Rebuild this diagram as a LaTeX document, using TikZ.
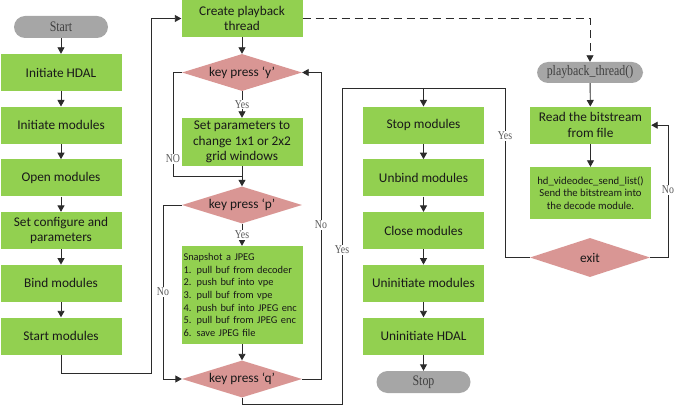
\documentclass[tikz,border=0pt]{standalone}
\usepackage{fontspec}
\usepackage{graphicx}
\setmainfont{Liberation Serif}
\newfontfamily\boxfont{Carlito}
\newcommand{\lbl}[1]{\scalebox{0.82}[1]{#1}}
\usetikzlibrary{arrows.meta,shapes.geometric}
\definecolor{boxgreen}{HTML}{92D050}
\definecolor{diapink}{HTML}{D99694}
\definecolor{pillgray}{HTML}{A6A6A6}
\definecolor{linec}{HTML}{2B2B2B}
\definecolor{labc}{HTML}{595959}
\definecolor{pilltext}{HTML}{404040}
\tikzset{
  stepbox/.style={fill=boxgreen, draw=none, minimum width=121pt, minimum height=37pt,
    inner sep=1pt, align=center, font=\boxfont\fontsize{13.3}{15.7}\selectfont, text=black!90},
  smallbox/.style={fill=boxgreen, draw=none, minimum width=121pt, inner sep=2pt,
    font=\boxfont\fontsize{10.7}{12.4}\selectfont, text=black!90},
  decision/.style={diamond, aspect=3.2, fill=diapink, draw=none, minimum width=120pt,
    minimum height=37pt, inner sep=0pt, font=\boxfont\fontsize{13.3}{15.7}\selectfont, text=black!90},
  pill/.style={rectangle, rounded corners=11pt, fill=pillgray, draw=none, minimum width=94pt,
    minimum height=22pt, inner sep=1pt, font=\fontsize{14.5}{14.5}\selectfont, text=pilltext},
  lab/.style={fill=white, inner sep=0.8pt, font=\fontsize{12}{12}\selectfont, text=labc},
  flow/.style={draw=linec, line width=0.9pt, -{Triangle[length=6.5pt,width=7pt]}},
  plain/.style={draw=linec, line width=0.9pt},
  dashflow/.style={draw=linec, line width=0.9pt, dash pattern=on 8pt off 5pt,
    -{Triangle[length=6.5pt,width=7pt]}},
}
\begin{document}
\begin{tikzpicture}[x=1pt,y=-1pt]
\useasboundingbox (0,0) rectangle (675,406);
% left column
\node[pill] (start) at (61,27) {\lbl{Start}};
\node[stepbox] (ihdal) at (61,72.5) {Initiate HDAL};
\node[stepbox] (imod) at (61,125.2) {Initiate modules};
\node[stepbox] (omod) at (61,177.9) {Open modules};
\node[stepbox] (setc) at (61,230.6) {Set configure and\\parameters};
\node[stepbox] (bmod) at (61,283.3) {Bind modules};
\node[stepbox] (smod) at (61,336) {Start modules};
% second column
\node[stepbox] (create) at (242,18.5) {Create playback\\thread};
\node[decision] (ky) at (242,72.5) {key press ‘y’};
\node[stepbox, minimum height=48pt] (setp) at (242,142) {Set parameters to\\change 1x1 or 2x2\\grid windows};
\node[decision] (kp) at (242,205) {key press ‘p’};
\node[smallbox, minimum height=98pt, text width=117pt, align=left,
  font=\boxfont\fontsize{10.4}{12.6}\selectfont] (snap) at (242,295)
  {Snapshot a JPEG\\1. pull buf from decoder\\2. push buf into vpe\\3. pull buf from vpe\\4. push buf into JPEG enc\\5. pull buf from JPEG enc\\6. save JPEG file};
\node[decision] (kq) at (242,379) {key press ‘q’};
% third column
\node[stepbox] (stopm) at (423.5,125.2) {Stop modules};
\node[stepbox] (ubm) at (423.5,177.9) {Unbind modules};
\node[stepbox] (clm) at (423.5,230.6) {Close modules};
\node[stepbox] (uim) at (423.5,283.3) {Uninitiate modules};
\node[stepbox] (uih) at (423.5,336) {Uninitiate HDAL};
\node[pill] (stop) at (423.5,382) {\lbl{Stop}};
% fourth column
\node[pill, minimum width=106pt, minimum height=21pt] (pbt) at (590,72.5) {\lbl{playback\_thread()}};
\node[stepbox] (read) at (590.5,125.2) {Read the bitstream\\from file};
\node[smallbox, minimum height=52pt, align=center] (hd) at (590.5,193)
  {hd\_videodec\_send\_list()\\Send the bitstream into\\the decode module.};
\node[decision, minimum height=39pt] (exit) at (590,257.5) {exit};
% helper coordinates
\coordinate (J) at (423.5,88);
\coordinate (M) at (242,176);
% left column arrows
\draw[flow] (start) -- (ihdal);
\draw[flow] (ihdal) -- (imod);
\draw[flow] (imod) -- (omod);
\draw[flow] (omod) -- (setc);
\draw[flow] (setc) -- (bmod);
\draw[flow] (bmod) -- (smod);
\draw[flow] (smod.south) -- (61,373) -- (151,373) -- (151,18.5) -- (create.west);
% second column
\draw[flow] (create) -- (ky);
\draw[flow] (ky.south) -- (setp.north) node[lab, midway] (yes1) {\lbl{Yes}};
\draw[plain] (ky.west) -- (173,72.5) -- (173,176) -- (M);
\node[lab] (no1) at (173,159) {\lbl{NO}};
\draw[flow] (setp.south) -- (kp.north);
\draw[flow] (kp.south) -- (snap.north) node[lab, midway] (yes2) {\lbl{Yes}};
\draw[flow] (kp.west) -- (163,205) -- (163,379) -- (kq.west);
\node[lab] (no2) at (163,292) {\lbl{No}};
\draw[flow] (snap) -- (kq);
\draw[flow] (kq.east) -- (321,379) -- (321,72.5) -- (ky.east);
\node[lab] (no3) at (321,225) {\lbl{No}};
\draw[plain] (kq.south) -- (242,404) -- (342,404) -- (342,88) -- (J);
\node[lab] (yes3) at (342,250) {\lbl{Yes}};
\draw[plain] (exit.west) -- (505,257.5) -- (505,88) -- (J);
\node[lab] (yes4) at (505,136) {\lbl{Yes}};
\draw[flow] (J) -- (stopm.north);
% third column arrows
\draw[flow] (stopm) -- (ubm);
\draw[flow] (ubm) -- (clm);
\draw[flow] (clm) -- (uim);
\draw[flow] (uim) -- (uih);
\draw[flow] (uih) -- (stop);
% fourth column
\draw[dashflow] (create.east) -- (590,18.5) -- (pbt.north);
\draw[flow] (pbt) -- (read);
\draw[flow] (read) -- (hd);
\draw[flow] (exit.east) -- (668,257.5) -- (668,125.2) -- (read.east);
\node[lab] (no4) at (668,190) {\lbl{No}};
\end{tikzpicture}
\end{document}
